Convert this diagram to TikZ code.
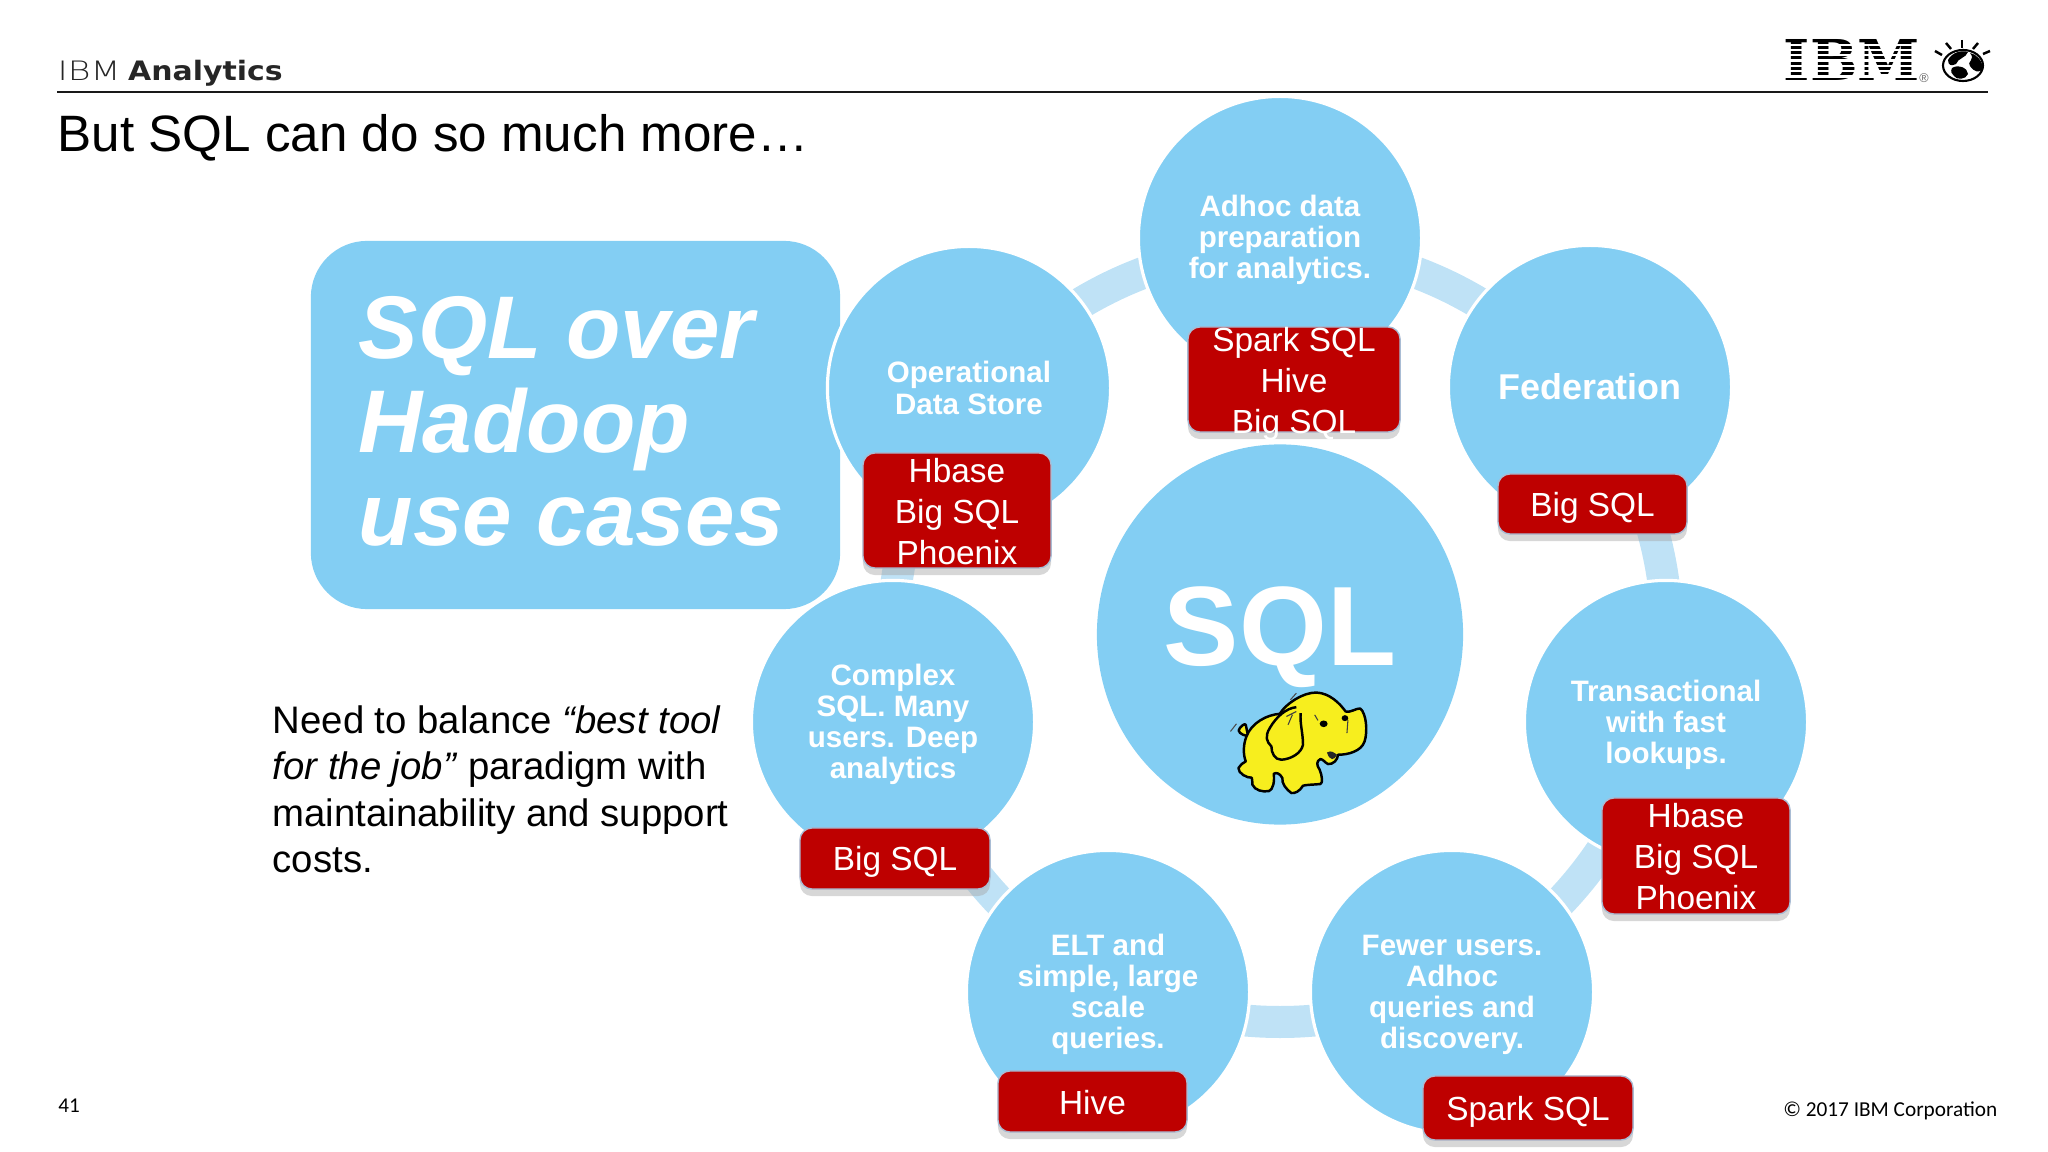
\documentclass[tikz,border=0pt]{standalone}
\usepackage{fontspec}
\usetikzlibrary{shapes.geometric,shadows}
\setmainfont{Liberation Sans}
\newfontfamily\carlitofont{Carlito}
\newfontfamily\widefont[FakeStretch=1.12]{DejaVu Sans}
\newfontfamily\hairfont[FakeStretch=1.3]{DejaVu Sans ExtraLight}
\newfontfamily\logofont{DejaVu Serif}
\newcommand{\pxfont}[2]{\fontsize{#1}{#2}\selectfont}
\newcommand{\textdrop}[1]{\rule{0pt}{#1pt}}
\definecolor{skyfill}{HTML}{83CEF3}
\definecolor{ringfill}{HTML}{BFE2F6}
\definecolor{boxred}{HTML}{BE0000}
\definecolor{boxedge}{HTML}{A9BCD4}
\definecolor{elephant}{HTML}{F7EE1E}
\tikzset{
	usebubble/.style={circle, fill=skyfill, draw=white, line width=.9pt, minimum size=2.83cm, inner sep=0pt, outer sep=0pt, text=white, align=center, font=\bfseries\pxfont{8.4}{8.85}},
	toolbox/.style={rectangle, rounded corners=3.4pt, fill=boxred, draw=boxedge, line width=.4pt, inner xsep=0pt, inner ysep=-8pt, outer sep=0pt, text=white, align=center, font=\pxfont{9.5}{11.67}, drop shadow={shadow xshift=0pt, shadow yshift=-2pt, fill=black!35, opacity=.45}},
	ringband/.style={draw=ringfill, line width=9.1pt},
	bodyline/.style={draw=black, line width=.7pt, line join=round},
	raybar/.style={draw=black, line width=.7pt}
}
\begin{document}
\begin{tikzpicture}[x=0.01cm, y=-0.01cm]
	\useasboundingbox (0,0) rectangle (2048,1152);
	\node[anchor=base west, inner sep=0pt, text=black!85, font=\pxfont{7.6}{9}] (brandname) at (57,81) {{\hairfont IBM} {\widefont\bfseries Analytics}};
	\coordinate (rulel) at (57,92);
	\coordinate (ruler) at (1988,92);
	\draw[line width=.55pt, black!90] (rulel) -- (ruler);
	\node[anchor=base west, inner sep=0pt, font=\pxfont{14.55}{16}] (slidetitle) at (57,152) {But SQL can do so much more…};

	\node[anchor=base, inner sep=0pt, font=\logofont\bfseries\pxfont{16}{17}] (ibmlogo) at (1852,81) {IBM};
	\foreach \y in {43.6,48.9,54.2,59.5,64.8,70.1,75.4}
		\fill[white] (1780,\y) rectangle (1924,\y+2.2);
	\node[inner sep=0pt, text=black!60, font=\pxfont{3.6}{4}] (ibmreg) at (1924,78) {®};
	\draw[raybar] (1935,51) -- (1942,55);
	\draw[raybar] (1946,43) -- (1951,49);
	\draw[raybar] (1962,40) -- (1962,48);
	\draw[raybar] (1978,43) -- (1973,49);
	\draw[raybar] (1990,51) -- (1983,54);
	\draw[fill=white, line width=.6pt] (1963,65.5) ellipse (20 and 15.5);
	\fill (1948,60) .. controls (1952,52) and (1962,50) .. (1968,52) .. controls (1966,58) and (1958,58) .. (1956,64) .. controls (1952,66) and (1948,66) .. (1948,60);
	\fill (1970,53) .. controls (1976,54) and (1982,60) .. (1983,68) .. controls (1980,74) and (1974,72) .. (1970,66) .. controls (1966,62) and (1976,60) .. (1970,53);
	\fill (1952,68) .. controls (1958,64) and (1968,68) .. (1968,74) .. controls (1966,80) and (1956,80) .. (1954,76) .. controls (1952,74) and (1950,72) .. (1952,68);

	\draw[ringband] (1280,635) circle [radius=387];

	\node[rectangle, rounded corners=16pt, fill=skyfill, minimum width=5.29cm, minimum height=3.68cm, inner sep=0pt, outer sep=0pt] (casepanel) at (575.5,425) {};
	\node[anchor=west, inner sep=0pt, text=white, align=left, font=\bfseries\itshape\pxfont{25.3}{26.6}] (casetext) at (358,421.5) {SQL over\\Hadoop\\use cases};

	\node[usebubble] (adhoc) at (1280,238) {\textdrop{7.3}Adhoc data\\preparation\\for analytics.};
	\node[usebubble] (opstore) at (969,388) {Operational\\Data Store};
	\node[usebubble, font=\bfseries\pxfont{10.2}{11}] (federation) at (1590,387) {Federation};
	\node[usebubble] (transact) at (1666,722) {\textdrop{7.8}Transactional\\with fast\\lookups.};
	\node[usebubble] (fewer) at (1452,992) {\textdrop{7.3}Fewer users.\\Adhoc\\queries and\\discovery.};
	\node[usebubble] (elt) at (1108,992) {\textdrop{7.3}ELT and\\simple, large\\scale\\queries.};
	\node[usebubble] (complex) at (893,722) {\textdrop{7.5}Complex\\SQL. Many\\users. Deep\\analytics};

	\node[ellipse, fill=skyfill, minimum width=3.66cm, minimum height=3.8cm, inner sep=0pt, outer sep=0pt] (sqlhub) at (1280,634.5) {};
	\node[inner sep=0pt, text=white, font=\bfseries\pxfont{32.1}{34}] (sqlword) at (1280,637) {SQL};

	\begin{scope}[shift={(1100,600)}, x=0.00333cm, y=-0.00333cm]
		\draw[black!70, line width=.3pt] (392,395) -- (410,372);
		\draw[black!70, line width=.3pt] (572,300) -- (590,280);
		\draw[bodyline, fill=elephant] (440,408) .. controls (425,405) and (410,395) .. (420,385) .. controls (425,378) and (435,370) .. (438,375) .. controls (442,385) and (440,395) .. (444,404) -- cycle;
		\draw[bodyline, fill=elephant] (440,410) .. controls (455,370) and (500,345) .. (540,342)
			.. controls (560,310) and (610,278) .. (650,278)
			.. controls (690,280) and (720,310) .. (738,335)
			.. controls (750,340) and (770,325) .. (782,326)
			.. controls (800,340) and (805,395) .. (795,425)
			.. controls (785,455) and (745,465) .. (715,465)
			.. controls (715,480) and (700,495) .. (685,493)
			.. controls (675,488) and (670,478) .. (662,478)
			.. controls (650,485) and (650,495) .. (660,510)
			.. controls (668,530) and (670,550) .. (662,553)
			.. controls (640,555) and (620,555) .. (610,558)
			.. controls (600,575) and (585,582) .. (575,580)
			.. controls (560,570) and (545,550) .. (548,535)
			.. controls (540,520) and (530,518) .. (522,522)
			.. controls (525,545) and (520,570) .. (508,574)
			.. controls (490,578) and (465,572) .. (458,555)
			.. controls (455,545) and (460,538) .. (456,534)
			.. controls (440,535) and (415,520) .. (416,505)
			.. controls (420,495) and (430,490) .. (438,485)
			.. controls (430,465) and (430,435) .. (440,410) -- cycle;
		\draw[bodyline, fill=elephant] (590,322) .. controls (560,325) and (530,350) .. (510,385)
			.. controls (495,410) and (500,425) .. (515,440)
			.. controls (515,460) and (525,480) .. (545,480)
			.. controls (575,478) and (605,460) .. (610,435)
			.. controls (610,400) and (600,370) .. (603,340);
		\draw[black!75, line width=.3pt] (560,350) -- (590,335) (565,375) -- (578,345);
		\draw[black!75, line width=.3pt] (645,345) -- (655,362) (745,360) -- (742,400);
		\fill (672,372) ellipse (12 and 10);
		\fill (736,355) ellipse (10 and 9);
		\fill[black!85] (682,458) .. controls (695,450) and (705,460) .. (712,465) .. controls (705,482) and (690,485) .. (682,458);
	\end{scope}

	\node[toolbox, minimum width=2.12cm, minimum height=1.05cm] (boxadhoc) at (1294,379.5) {\textdrop{9.3}Spark SQL\\Hive\\Big SQL};
	\node[toolbox, minimum width=1.88cm, minimum height=1.15cm] (boxopstore) at (957,510.5) {\textdrop{7.6}Hbase\\Big SQL\\Phoenix};
	\node[toolbox, minimum width=1.89cm, minimum height=.6cm] (boxfed) at (1592.5,504) {\textdrop{9.3}Big SQL};
	\node[toolbox, minimum width=1.88cm, minimum height=1.16cm] (boxtransact) at (1696,856) {\textdrop{7.3}Hbase\\Big SQL\\Phoenix};
	\node[toolbox, minimum width=2.1cm, minimum height=.64cm] (boxfewer) at (1528,1108) {\textdrop{9.3}Spark SQL};
	\node[toolbox, minimum width=1.89cm, minimum height=.61cm] (boxelt) at (1092.5,1101.5) {\textdrop{7.6}Hive};
	\node[toolbox, minimum width=1.9cm, minimum height=.61cm] (boxcomplex) at (895,858.5) {\textdrop{8.7}Big SQL};

	\node[anchor=north west, inner sep=0pt, align=left, font=\pxfont{10.9}{13.2}] (balancetext) at (272,705) {Need to balance \textit{“best tool}\\\textit{for the job”} paradigm with\\maintainability and support\\costs.};

	\node[inner sep=0pt, font=\carlitofont\pxfont{6}{7}] (pagenum) at (69,1106) {41};
	\node[anchor=east, inner sep=0pt, font=\carlitofont\pxfont{6.05}{7}] (copyright) at (1998,1111) {© 2017 IBM Corporation};
\end{tikzpicture}
\end{document}
